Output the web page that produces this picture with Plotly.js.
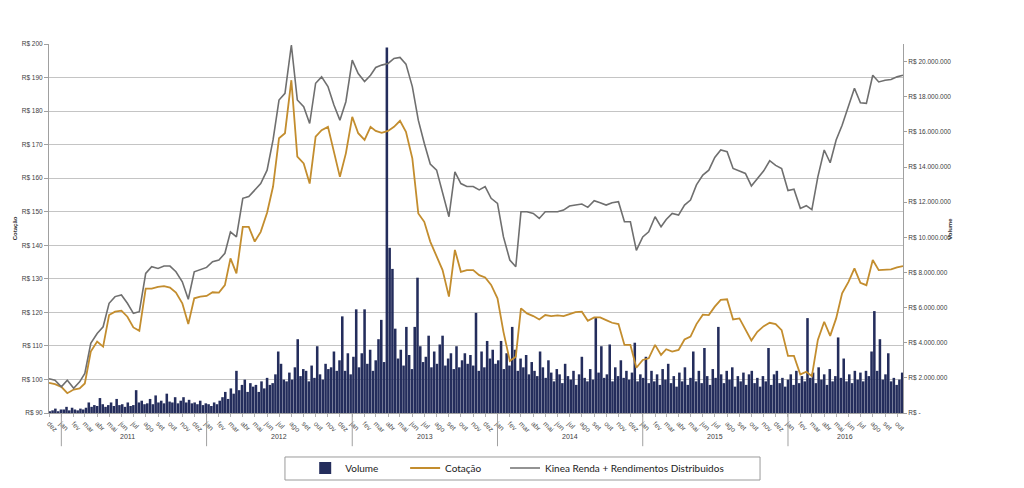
<!DOCTYPE html>
<html>
<head>
<meta charset="utf-8">
<script src="https://cdn.plot.ly/plotly-3.0.1.min.js"></script>
<style>
  html, body { margin: 0; padding: 0; background: #fff; }
  #chart { width: 1024px; height: 488px; }
</style>
</head>
<body>
<div id="chart"></div>
<script>
// month / year labels (pt-BR)
const monthNames = ['jan','fev','mar','abr','mai','jun','jul','ago','set','out','nov','dez'];
const yearLabels = ['2011','2012','2013','2014','2015','2016'];

// price ticks (left axis) and volume ticks (right axis)
const priceTicks = [90,100,110,120,130,140,150,160,170,180,190,200];
const volumeTicks = [0,2e6,4e6,6e6,8e6,10e6,12e6,14e6,16e6,18e6,20e6];

// Cotação (R$), semi-monthly: 1st and 16th of each month, from 2010-12-01
const cotacao = [
  99.0, 98.6,
  97.8, 95.9, 97.0, 97.3, 98.8, 108.3, 111.3, 109.8, 119.2, 120.2, 120.5, 118.7,
  115.5, 114.5, 127.1, 127.1, 127.6, 127.8, 127.4, 125.9, 122.7, 116.5, 124.2, 124.7,
  124.9, 126.0, 125.9, 128.1, 136.1, 131.6, 145.5, 145.5, 141.1, 144.0, 149.7, 157.5,
  171.9, 173.4, 189.2, 166.4, 164.4, 158.4, 172.4, 174.3, 175.3, 167.4, 160.4, 167.4,
  178.3, 173.4, 171.4, 175.3, 174.1, 173.5, 174.1, 175.3, 177.1, 173.8, 165.9, 149.5,
  147.0, 141.1, 136.6, 132.6, 124.7, 138.6, 132.1, 132.6, 132.6, 131.1, 130.4, 128.2,
  124.2, 114.2, 105.5, 106.8, 121.2, 119.7, 118.9, 117.9, 119.2, 118.9, 119.1, 118.9,
  119.5, 120.1, 120.2, 117.5, 118.5, 118.5, 117.7, 116.9, 116.5, 110.3, 110.3, 103.5,
  105.8, 106.3, 110.3, 107.3, 109.0, 108.3, 108.8, 111.9, 112.8, 116.5, 119.3, 119.2,
  121.7, 123.7, 123.9, 117.9, 118.2, 114.7, 111.6, 114.2, 115.9, 116.9, 116.5, 114.7,
  107.0, 107.0, 101.5, 102.3, 101.0, 111.8, 117.2, 113.0, 118.2, 125.7, 129.1, 133.1,
  128.8, 128.1, 135.6, 132.6, 132.6, 132.8, 133.4, 133.8
];

// Kinea Renda + Rendimentos Distribuidos (R$), same dates
const kineaRend = [
  100.2, 99.8,
  97.8, 99.8, 97.4, 99.3, 101.8, 110.8, 113.7, 115.7, 122.7, 124.7, 125.2, 122.7,
  119.7, 120.2, 131.6, 133.6, 133.1, 133.8, 133.8, 132.1, 129.1, 123.9, 132.1, 132.8,
  133.4, 135.1, 135.6, 137.6, 144.0, 142.5, 154.0, 154.5, 156.5, 158.4, 162.4, 171.4,
  183.3, 185.3, 199.7, 183.3, 181.3, 176.3, 188.3, 190.2, 187.3, 181.8, 177.3, 182.8,
  195.2, 191.2, 188.8, 190.7, 193.0, 193.7, 194.2, 195.7, 196.0, 194.0, 187.3, 177.3,
  170.4, 164.2, 162.4, 155.3, 148.5, 161.9, 158.4, 157.5, 157.5, 156.5, 157.5, 154.0,
  152.5, 142.5, 135.6, 133.6, 150.0, 150.0, 149.5, 148.0, 150.0, 150.0, 150.0, 150.5,
  151.7, 152.0, 152.3, 151.3, 153.3, 152.7, 152.0, 152.7, 153.0, 147.0, 147.0, 138.5,
  142.5, 144.0, 148.5, 145.5, 147.7, 149.5, 149.0, 152.0, 153.5, 158.0, 160.9, 162.4,
  166.2, 168.4, 167.9, 162.9, 162.2, 161.4, 157.7, 159.9, 162.2, 165.2, 163.8, 162.9,
  156.3, 156.7, 151.0, 151.8, 150.6, 160.4, 168.4, 164.6, 171.4, 175.8, 181.3, 186.8,
  182.5, 182.3, 190.7, 188.7, 189.2, 189.4, 190.2, 190.7
];

// Volume (R$ milhões), weekly from 2010-12-03
const volume2010 = [0.1, 0.15, 0.25, 0.1, 0.2];
const volume2011 = [
  0.2, 0.35, 0.15, 0.3,  0.2, 0.15, 0.25, 0.2,  0.3, 0.6, 0.35, 0.45,
  0.4, 0.85, 0.5, 0.35, 0.45,  0.6, 0.4, 0.8, 0.45,  0.5, 0.35, 0.6, 0.4,
  0.45, 1.3, 0.6, 0.7, 0.5,  0.55, 0.8, 0.5, 1.0,  0.6, 0.7, 0.55, 1.1, 0.65,
  0.6, 0.9, 0.55, 0.7,  0.9, 0.6, 0.75, 0.55,  0.6, 0.5, 0.7, 0.45, 0.55
];
const volume2012 = [
  0.5, 0.4, 0.6, 0.5,  0.7, 0.9, 1.2, 0.8,  1.4, 1.1, 2.4, 1.3, 1.6,
  1.9, 1.2, 1.7, 1.5,  1.6, 1.2, 1.8, 1.4,  2.0, 1.6, 1.7, 2.2, 3.5,
  2.8, 1.9, 1.8, 2.3,  1.9, 2.6, 4.2, 2.1, 2.5,  2.4, 1.8, 2.7, 2.0,
  3.8, 2.2, 1.9, 2.8,  2.5, 2.6, 3.5, 2.4, 3.0,  5.5, 2.4, 3.4, 2.2
];
const volume2013 = [
  3.2, 5.9, 2.6, 3.4,  5.9, 2.8, 3.6, 2.4,  3.0, 4.2, 5.3, 2.9, 20.8,
  9.4, 8.2, 4.8, 3.1,  3.6, 2.7, 4.9, 3.3, 2.5,  4.9, 7.7, 3.8, 2.9,
  3.2, 4.4, 2.6, 3.5,  2.8, 3.9, 4.4, 2.7, 3.1,  3.4, 2.5, 3.8, 2.6,
  3.0, 3.4, 2.8, 3.3,  2.7, 5.7, 2.4, 3.5, 2.6,  4.1, 3.1, 3.6, 2.8
];
const volume2014 = [
  3.0, 4.1, 2.5, 3.4, 2.7,  4.9, 3.6, 2.4, 3.1,  2.6, 3.3, 2.2, 2.9,
  2.4, 2.1, 3.5, 2.6,  2.0, 3.0, 2.3, 1.8, 2.5,  2.2, 1.7, 2.8, 2.1,
  1.9, 2.4, 1.6, 2.2,  3.2, 2.0, 1.8, 2.5, 1.9,  5.4, 2.3, 3.8, 2.0,
  2.2, 3.9, 1.8, 2.6, 2.1,  3.0, 2.0, 2.4, 1.9,  2.3, 4.0, 1.8, 2.2
];
const volume2015 = [
  2.0, 3.2, 1.7, 2.4, 1.8,  2.2, 1.6, 2.5, 1.9,  2.8, 1.7, 2.1, 1.5,
  2.3, 1.8, 2.6, 1.6,  2.0, 3.5, 1.8, 2.4, 1.7,  3.7, 2.1, 1.6, 2.5,
  2.0, 4.9, 2.2, 1.7, 2.4,  1.9, 2.6, 1.5, 2.1,  1.8, 2.3, 1.6, 2.2,
  2.4, 1.7, 2.0, 1.5, 2.1,  1.8, 3.7, 1.6, 2.2,  2.4, 1.7, 2.0, 1.5
];
const volume2016 = [
  1.9, 2.2, 1.6, 2.4, 1.7,  2.1, 1.8, 5.4, 2.0,  2.3, 1.7, 2.6, 1.9,
  2.2, 1.6, 2.5, 1.8, 2.1,  4.3, 2.0, 3.1, 1.8,  2.2, 1.7, 2.4, 1.9,
  2.3, 1.8, 2.4, 2.1, 3.5,  5.8, 2.4, 4.2, 1.9,  2.2, 3.4, 1.8, 2.0, 1.6,
  1.9, 2.3
];

const volumeMi = [].concat(volume2010, volume2011, volume2012, volume2013,
                           volume2014, volume2015, volume2016);

const DAY = 86400000;

function halfMonthDates(n) {
  const out = [];
  let y = 2010, m = 12;
  while (out.length < n) {
    const mm = String(m).padStart(2, '0');
    out.push(`${y}-${mm}-01`);
    if (out.length < n) out.push(`${y}-${mm}-16`);
    m++;
    if (m > 12) { m = 1; y++; }
  }
  return out;
}

function weeklyDates(n) {
  const start = Date.UTC(2010, 11, 3);
  return Array.from({length: n}, (_, i) => new Date(start + i * 7 * DAY).toISOString().slice(0, 10));
}

const lineDates = halfMonthDates(cotacao.length);
const volDates = weeklyDates(volumeMi.length);

// monthly ticks
const monthTickVals = [], monthTickText = [];
{
  let y = 2010, m = 11;
  while (y < 2016 || (y === 2016 && m <= 9)) {
    monthTickVals.push(`${y}-${String(m + 1).padStart(2, '0')}-01`);
    monthTickText.push(monthNames[m]);
    m++;
    if (m > 11) { m = 0; y++; }
  }
}

const fmtBR = v => v.toString().replace(/\B(?=(\d{3})+(?!\d))/g, '.');

const xStart = '2010-12-01';
const xEnd = lineDates[lineDates.length - 1];

const traces = [
  {
    x: volDates,
    y: volumeMi.map(v => v * 1e6),
    type: 'bar',
    name: 'Volume',
    yaxis: 'y',
    legend: 'legend',
    width: 6.4 * DAY,
    marker: { color: '#242d5c', line: { width: 0 } }
  },
  {
    x: lineDates,
    y: cotacao,
    type: 'scatter',
    mode: 'lines',
    name: 'Cotação',
    yaxis: 'y2',
    legend: 'legend2',
    line: { color: '#c38d2e', width: 1.8 }
  },
  {
    x: lineDates,
    y: kineaRend,
    type: 'scatter',
    mode: 'lines',
    name: 'Kinea Renda + Rendimentos Distribuidos',
    yaxis: 'y2',
    legend: 'legend3',
    line: { color: '#6f6f6f', width: 1.6 }
  }
];

// year separators and labels under the month labels
const shapes = [];
const annotations = [];
yearLabels.forEach((yl, i) => {
  const yr = +yl;
  shapes.push({
    type: 'line', xref: 'x', yref: 'paper',
    x0: `${yr}-01-01`, x1: `${yr}-01-01`, y0: 0, y1: -0.09,
    line: { color: '#a0a0a0', width: 1 }
  });
  const a = i === 0 ? Date.parse(xStart) : Date.UTC(yr, 0, 1);
  const b = i === yearLabels.length - 1 ? Date.parse(xEnd) : Date.UTC(yr + 1, 0, 1);
  annotations.push({
    text: yl, xref: 'x', yref: 'paper',
    x: new Date((a + b) / 2).toISOString().slice(0, 10), y: -0.078,
    showarrow: false, font: { size: 7, color: '#404040' }
  });
});

// legend frame
shapes.push({
  type: 'rect', xref: 'paper', yref: 'paper',
  x0: 0.2763, x1: 0.8326, y0: -0.1816, y1: -0.1192,
  line: { color: '#9a9a9a', width: 1 }, fillcolor: 'rgba(0,0,0,0)'
});

annotations.push({
  text: '<b>Cotação</b>', xref: 'paper', yref: 'paper', x: -0.046, y: 0.5,
  textangle: -90, showarrow: false, font: { size: 6, color: '#333' }
});
annotations.push({
  text: '<b>Volume</b>', xref: 'paper', yref: 'paper', x: 1.06, y: 0.5,
  textangle: -90, showarrow: false, font: { size: 6, color: '#333' }
});

const legendBase = {
  orientation: 'h',
  xanchor: 'left',
  y: -0.149, yanchor: 'middle',
  font: { family: 'Lato, Liberation Sans, sans-serif', size: 10, color: '#222' },
  bgcolor: 'rgba(0,0,0,0)',
  borderwidth: 0
};

const layout = {
  width: 1024,
  height: 488,
  margin: { l: 49, r: 121, t: 44, b: 75, autoexpand: false },
  paper_bgcolor: '#ffffff',
  plot_bgcolor: '#ffffff',
  font: { family: 'Liberation Sans Narrow, Liberation Sans, Arial, sans-serif', size: 7, color: '#404040' },
  showlegend: true,
  legend: Object.assign({}, legendBase, { x: 0.300 }),
  legend2: Object.assign({}, legendBase, { x: 0.417 }),
  legend3: Object.assign({}, legendBase, { x: 0.534 }),
  xaxis: {
    type: 'date',
    range: [xStart, xEnd],
    tickmode: 'array',
    tickvals: monthTickVals,
    ticktext: monthTickText,
    tickangle: 45,
    ticks: 'outside',
    ticklen: 3,
    tickcolor: '#b0b0b0',
    showline: true,
    linecolor: '#a0a0a0',
    showgrid: false,
    zeroline: false,
    automargin: false,
    tickfont: { size: 7, color: '#505050' }
  },
  yaxis: {
    side: 'right',
    range: [0, 21e6],
    tickmode: 'array',
    tickvals: volumeTicks,
    ticktext: volumeTicks.map(v => v === 0 ? 'R$ -' : 'R$ ' + fmtBR(v)),
    showgrid: false,
    zeroline: false,
    showline: true,
    linecolor: '#a0a0a0',
    ticks: 'outside',
    ticklen: 3,
    tickcolor: '#a0a0a0',
    automargin: false,
    tickfont: { size: 6.5, color: '#404040' }
  },
  yaxis2: {
    overlaying: 'y',
    side: 'left',
    range: [90, 200],
    tickmode: 'array',
    tickvals: priceTicks,
    ticktext: priceTicks.map(v => 'R$ ' + v),
    showgrid: true,
    gridcolor: '#c4c4c4',
    gridwidth: 1,
    zeroline: false,
    showline: true,
    linecolor: '#a0a0a0',
    ticks: 'outside',
    ticklen: 4,
    tickcolor: '#a0a0a0',
    automargin: false,
    tickfont: { size: 6.5, color: '#404040' }
  },
  shapes: shapes,
  annotations: annotations
};

Plotly.newPlot('chart', traces, layout, { displayModeBar: false, staticPlot: true });
</script>
</body>
</html>
